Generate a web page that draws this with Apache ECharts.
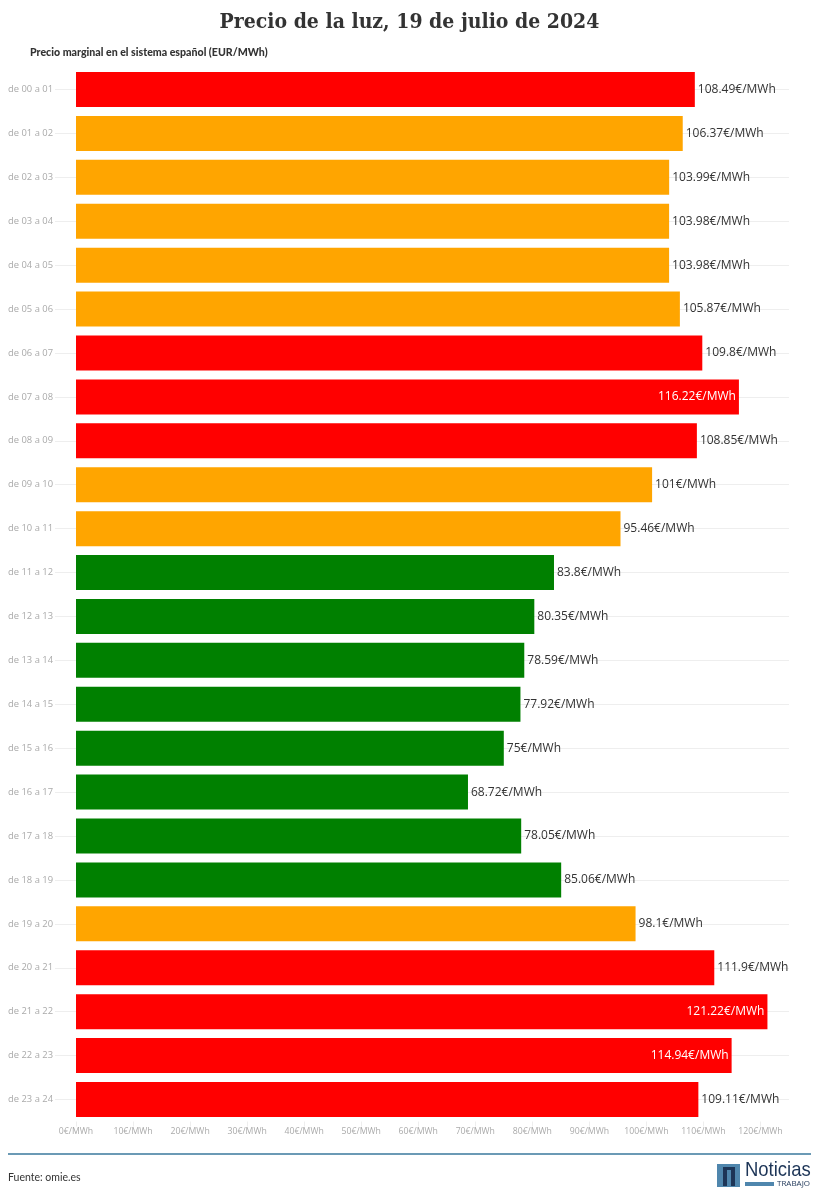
<!DOCTYPE html>
<html>
<head>
<meta charset="utf-8">
<title>Precio de la luz</title>
<style>
    html, body { margin: 0; padding: 0; background: #fff; }
    #chart { width: 819px; height: 1200px; }
</style>
<script src="https://cdn.jsdelivr.net/npm/echarts@6/dist/echarts.min.js"></script>
</head>
<body>
<div id="chart"></div>
<script>
const hours = ['de 00 a 01', 'de 01 a 02', 'de 02 a 03', 'de 03 a 04', 'de 04 a 05', 'de 05 a 06',
    'de 06 a 07', 'de 07 a 08', 'de 08 a 09', 'de 09 a 10', 'de 10 a 11', 'de 11 a 12',
    'de 12 a 13', 'de 13 a 14', 'de 14 a 15', 'de 15 a 16', 'de 16 a 17', 'de 17 a 18',
    'de 18 a 19', 'de 19 a 20', 'de 20 a 21', 'de 21 a 22', 'de 22 a 23', 'de 23 a 24'];
const prices = [108.49, 106.37, 103.99, 103.98, 103.98, 105.87,
    109.8, 116.22, 108.85, 101, 95.46, 83.8,
    80.35, 78.59, 77.92, 75, 68.72, 78.05,
    85.06, 98.1, 111.9, 121.22, 114.94, 109.11];
const priceLevels = ['r', 'o', 'o', 'o', 'o', 'o',
    'r', 'r', 'r', 'o', 'o', 'g',
    'g', 'g', 'g', 'g', 'g', 'g',
    'g', 'o', 'r', 'r', 'r', 'r'];
const levelColors = { r: '#ff0000', o: '#ffa500', g: '#008000' };
// these three labels sit inside the bar in white
const insideLabels = [7, 21, 22];

const sans = '"Open Sans", "Noto Sans", sans-serif';
const lato = 'Lato, "Open Sans", sans-serif';

const chart = echarts.init(document.getElementById('chart'), null, { renderer: 'canvas' });

const option = {
    animation: false,
    backgroundColor: '#fff',
    title: [
        {
            text: 'Precio de la luz, 19 de julio de 2024',
            left: 'center',
            top: 7,
            textStyle: { fontFamily: '"DejaVu Serif Condensed", "DejaVu Serif", serif', fontWeight: 'bold', fontSize: 21, color: '#333' }
        },
        {
            text: 'Precio marginal en el sistema español (EUR/MWh)',
            left: 25,
            top: 42,
            textStyle: { fontFamily: lato, fontWeight: 900, fontSize: 10.6, color: '#333' }
        }
    ],
    grid: { left: 76, top: 89.5, width: 713, height: 1010, containLabel: false },
    xAxis: {
        type: 'value',
        min: 0,
        max: 125,
        interval: 10,
        offset: 22,
        axisLine: { show: false },
        axisTick: { show: true, length: 5, lineStyle: { color: '#eee' } },
        axisLabel: {
            showMaxLabel: false,
            margin: 6,
            fontFamily: sans,
            fontSize: 8.7,
            color: '#aaa',
            formatter: v => (v > 120 ? '' : v + '€/MWh')
        },
        splitLine: { show: false }
    },
    yAxis: {
        type: 'category',
        inverse: true,
        boundaryGap: false,
        data: hours,
        axisLine: { show: false },
        axisTick: { show: true, length: 21, lineStyle: { color: '#eee' } },
        axisLabel: { margin: 23, fontFamily: sans, fontSize: 9.4, color: '#aaa' },
        splitLine: { show: true, lineStyle: { color: '#eee', width: 1 } }
    },
    series: [{
        type: 'bar',
        barWidth: 35,
        clip: false,
        data: prices.map((v, i) => {
            const inside = insideLabels.includes(i);
            return {
                value: v,
                itemStyle: { color: levelColors[priceLevels[i]] },
                label: {
                    show: true,
                    position: inside ? 'insideRight' : 'right',
                    distance: 3,
                    color: inside ? '#fff' : '#333',
                    fontFamily: sans,
                    fontSize: 12,
                    formatter: v + '€/MWh'
                }
            };
        })
    }],
    graphic: [
        { type: 'rect', shape: { x: 8, y: 1153, width: 803, height: 2 }, style: { fill: '#6b9ab5' } },
        { type: 'text', style: { x: 8, y: 1172, text: 'Fuente: omie.es', font: '10.5px Lato', fill: '#333' } },
        // logo
        { type: 'rect', shape: { x: 717, y: 1164, width: 23, height: 23 }, style: { fill: '#4f86ad' } },
        { type: 'rect', shape: { x: 723, y: 1167, width: 12, height: 3 }, style: { fill: '#1d3557' } },
        { type: 'rect', shape: { x: 723, y: 1167, width: 4, height: 19 }, style: { fill: '#1d3557' } },
        { type: 'rect', shape: { x: 731, y: 1167, width: 4, height: 19 }, style: { fill: '#1d3557' } },
        { type: 'text', x: 745, y: 1160, scaleX: 0.88, style: { text: 'Noticias', font: '21px "Liberation Sans"', fill: '#1d3557' } },
        { type: 'rect', shape: { x: 745, y: 1182, width: 29, height: 4 }, style: { fill: '#4f86ad' } },
        { type: 'text', style: { x: 777, y: 1180, text: 'TRABAJO', font: '8px "Open Sans"', fill: '#1d3557' } }
    ]
};

chart.setOption(option);
</script>
</body>
</html>
